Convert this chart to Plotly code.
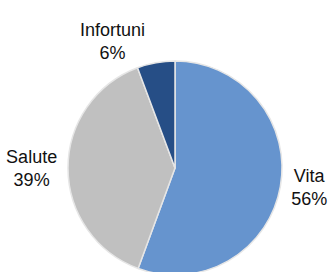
import plotly.graph_objects as go

categories = ["Vita", "Salute", "Infortuni"]
values = [55.6, 38.7, 5.7]
colors = ["#6694CE", "#C0C0C0", "#264E86"]

fig = go.Figure(go.Pie(
    labels=categories,
    values=values,
    sort=False,
    direction="clockwise",
    rotation=0,
    marker=dict(colors=colors, line=dict(color="#E6E6E6", width=1.5)),
    texttemplate="%{label}<br>%{percent:.0%}",
    textposition="outside",
    textfont=dict(family="Liberation Sans, Arial, sans-serif", size=18, color="#111111"),
    showlegend=False,
    hoverinfo="label+percent",
))

fig.update_layout(
    width=332, height=280,
    margin=dict(l=68, r=48, t=61, b=3),
    paper_bgcolor="white",
    plot_bgcolor="white",
)

fig.write_html(
    "out.html",
    config={"displayModeBar": False},
    post_script="document.body.style.margin='0';document.documentElement.style.overflow='hidden';document.body.style.overflow='hidden';",
)
